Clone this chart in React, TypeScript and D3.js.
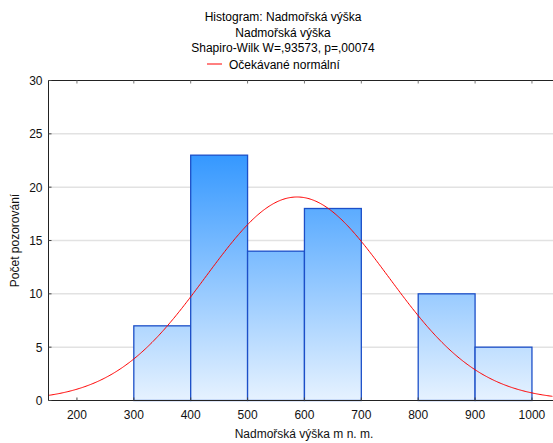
import React from 'react'
import * as d3 from 'd3'

// histogram bins (lower edge, upper edge) and counts
const binStarts = [300, 400, 500, 600, 700, 800, 900]
const binEnds = [400, 500, 600, 700, 800, 900, 1000]
const counts = [7, 23, 14, 18, 0, 10, 5]
const xTicks = [200, 300, 400, 500, 600, 700, 800, 900, 1000]
const yTicks = [0, 5, 10, 15, 20, 25, 30]

// fitted normal: n * bin width * pdf
const nObs = 77
const binWidth = 100
const mean = 587
const sd = 161

const titleLines = ['Histogram: Nadmořská výška', 'Nadmořská výška', 'Shapiro-Wilk W=,93573, p=,00074']

const width = 553,
      height = 443
const left = 48.5,
      right = 553,
      top = 80.5,
      bottom = 400.5
const font = 'Liberation Sans, Arial, sans-serif'
const fs = 12

const xScale = d3.scaleLinear().domain([150, 1037]).range([left, right])
const yScale = d3.scaleLinear().domain([0, 30]).range([bottom, top])

const normal = (x: number) =>
  nObs * binWidth / (sd * Math.sqrt(2 * Math.PI)) * Math.exp(-((x - mean) ** 2) / (2 * sd * sd))

export default function App () {
  const curvePts = d3.range(150, 1038, 2).map(x => [x, normal(x)] as [number, number])
  const line = d3.line<[number, number]>()
                 .x(d => xScale(d[0]))
                 .y(d => yScale(d[1]))

  const maxCount = d3.max(counts) as number

  return (
    <svg width={width} height={height} style={{ position: 'absolute', left: 0, top: 0 }} fontFamily={font}>
      <defs>
        <linearGradient id="barFill" gradientUnits="userSpaceOnUse"
          x1="0" x2="0" y1={yScale(maxCount)} y2={yScale(0)}>
          <stop offset="0" stopColor="#3598ff" />
          <stop offset="1" stopColor="#e6f2ff" />
        </linearGradient>
      </defs>

      {/* 标题 */}
      {titleLines.map((t, i) => (
        <text key={i} x={283} y={21 + i * 15.7} textAnchor="middle" fontSize={fs} fill="#000">{t}</text>
      ))}
      <line x1={207} x2={222} y1={64} y2={64} stroke="#ff0000" strokeWidth={1} />
      <text x={229} y={68.5} fontSize={fs} fill="#000">Očekávané normální</text>

      {/* grid */}
      {yTicks.filter(t => t > 0 && t < 30).map(t => (
        <line key={t} x1={left} x2={right} y1={yScale(t)} y2={yScale(t)} stroke="#e2e2e2" strokeWidth={1.5} />
      ))}

      {/* bars */}
      {counts.map((c, i) => c > 0 && (
        <rect key={i}
          x={xScale(binStarts[i])}
          y={yScale(c)}
          width={xScale(binEnds[i]) - xScale(binStarts[i])}
          height={yScale(0) - yScale(c)}
          fill="url(#barFill)"
          stroke="#1c4fc8"
          strokeWidth={1.3} />
      ))}

      {/* normal curve */}
      <path d={line(curvePts) as string} fill="none" stroke="#ff0000" strokeWidth={1} />

      {/* frame */}
      <line x1={left} x2={right} y1={top} y2={top} stroke="#222" strokeWidth={1} />
      <line x1={left} x2={right} y1={bottom} y2={bottom} stroke="#222" strokeWidth={1} />
      <line x1={left} x2={left} y1={top} y2={bottom} stroke="#222" strokeWidth={1} />

      {/* x ticks */}
      {xTicks.map(t => (
        <g key={t}>
          <line x1={xScale(t)} x2={xScale(t)} y1={bottom} y2={bottom - 3} stroke="#444" />
          <line x1={xScale(t)} x2={xScale(t)} y1={top} y2={top + 3} stroke="#777" />
          <text x={xScale(t)} y={bottom + 18} textAnchor="middle" fontSize={fs} fill="#111">{t}</text>
        </g>
      ))}

      {/* y ticks */}
      {yTicks.map(t => (
        <g key={t}>
          <line x1={left} x2={left + 3} y1={yScale(t)} y2={yScale(t)} stroke="#444" />
          <text x={left - 6} y={yScale(t) + 4.5} textAnchor="end" fontSize={fs} fill="#111">{t}</text>
        </g>
      ))}

      {/* axis titles */}
      <text x={304} y={438} textAnchor="middle" fontSize={fs} fill="#111">Nadmořská výška m n. m.</text>
      <text transform={`translate(19, ${(top + bottom) / 2}) rotate(-90)`} textAnchor="middle" fontSize={fs} fill="#111">Počet pozorování</text>
    </svg>
  )
}
